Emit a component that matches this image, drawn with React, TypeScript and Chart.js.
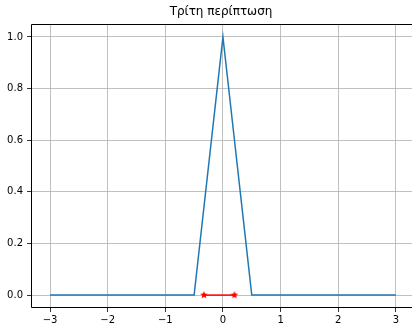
import React, { useEffect, useRef } from "react";
import { Chart, registerables } from "chart.js";

Chart.register(...registerables);

const titleText = "Τρίτη περίπτωση";
const triX = [-3, -0.5, 0, 0.5, 3];
const triY = [0, 0, 1, 0, 0];
const redX = [-0.33, 0.2];
const redY = [0, 0];
const xTicks = [-3, -2, -1, 0, 1, 2, 3];
const yTicks = [0, 0.2, 0.4, 0.6, 0.8, 1.0];

function makeStar(size: number, color: string): HTMLCanvasElement {
  const c = document.createElement("canvas");
  c.width = size;
  c.height = size;
  const ctx = c.getContext("2d")!;
  const cx = size / 2, cy = size / 2;
  const R = size / 2, r = R * 0.45;
  ctx.beginPath();
  for (let i = 0; i < 10; i++) {
    const ang = -Math.PI / 2 + (i * Math.PI) / 5;
    const rad = i % 2 === 0 ? R : r;
    const px = cx + rad * Math.cos(ang);
    const py = cy + rad * Math.sin(ang);
    if (i === 0) ctx.moveTo(px, py);
    else ctx.lineTo(px, py);
  }
  ctx.closePath();
  ctx.fillStyle = color;
  ctx.fill();
  return c;
}

const FONT = "'DejaVu Sans', sans-serif";

export default function App() {
  const ref = useRef<HTMLCanvasElement | null>(null);
  useEffect(() => {
    document.body.style.margin = "0";
    const star = makeStar(8, "#ff0000");
    const frame = {
      id: "frame",
      afterDraw(chart: any) {
        const { ctx, chartArea } = chart;
        const l = Math.round(chartArea.left) + 0.5;
        const t = Math.round(chartArea.top) + 0.5;
        const b = Math.round(chartArea.bottom) - 0.5;
        const r = chartArea.right + 2;
        ctx.save();
        ctx.strokeStyle = "#000";
        ctx.lineWidth = 1;
        ctx.beginPath();
        ctx.moveTo(r, t);
        ctx.lineTo(l, t);
        ctx.lineTo(l, b);
        ctx.lineTo(r, b);
        ctx.stroke();
        ctx.fillStyle = "#000";
        ctx.font = `12px ${FONT}`;
        ctx.textAlign = "center";
        ctx.textBaseline = "middle";
        ctx.fillText(titleText, 221, 12);
        ctx.restore();
      },
    };
    const chart = new Chart(ref.current!, {
      type: "scatter",
      data: {
        datasets: [
          {
            data: triX.map((x, i) => ({ x, y: triY[i] })),
            showLine: true,
            borderColor: "#1f77b4",
            borderWidth: 1.5,
            pointRadius: 0,
            tension: 0,
          },
          {
            data: redX.map((x, i) => ({ x, y: redY[i] })),
            showLine: true,
            borderColor: "#ff0000",
            backgroundColor: "#ff0000",
            borderWidth: 1.5,
            pointStyle: star as any,
            pointRadius: 4,
            tension: 0,
          },
        ],
      },
      options: {
        animation: false,
        responsive: false,
        events: [],
        layout: { autoPadding: false, padding: { top: 24, right: 0, left: 0, bottom: 0 } },
        plugins: {
          legend: { display: false },
          title: { display: false },
          tooltip: { enabled: false },
        },
        scales: {
          x: {
            type: "linear",
            min: -3.33,
            max: 3.28,
            afterBuildTicks: (s: any) => {
              s.ticks = xTicks.map((v) => ({ value: v }));
            },
            afterFit: (s: any) => {
              s.height = 16;
              s.paddingLeft = 0;
              s.paddingRight = 0;
            },
            ticks: {
              color: "#000",
              font: { family: FONT, size: 10 },
              padding: 2,
              maxRotation: 0,
              callback: (v: any) => String(v).replace("-", "\u2212"),
            },
            grid: {
              color: "#b0b0b0",
              lineWidth: 0.8,
              tickColor: "#000",
              tickLength: 4,
            },
            border: { display: false },
          },
          y: {
            type: "linear",
            min: -0.05,
            max: 1.05,
            afterBuildTicks: (s: any) => {
              s.ticks = yTicks.map((v) => ({ value: v }));
            },
            afterFit: (s: any) => {
              s.width = 31;
              s.paddingTop = 0;
              s.paddingBottom = 0;
            },
            ticks: {
              color: "#000",
              font: { family: FONT, size: 10 },
              padding: 4,
              callback: (v: any) => Number(v).toFixed(1),
            },
            grid: {
              color: "#b0b0b0",
              lineWidth: 0.8,
              tickColor: "#000",
              tickLength: 4,
            },
            border: { display: false },
          },
        },
      },
      plugins: [frame],
    });
    return () => chart.destroy();
  }, []);
  return <canvas ref={ref} width={412} height={324} style={{ display: "block" }} />;
}
